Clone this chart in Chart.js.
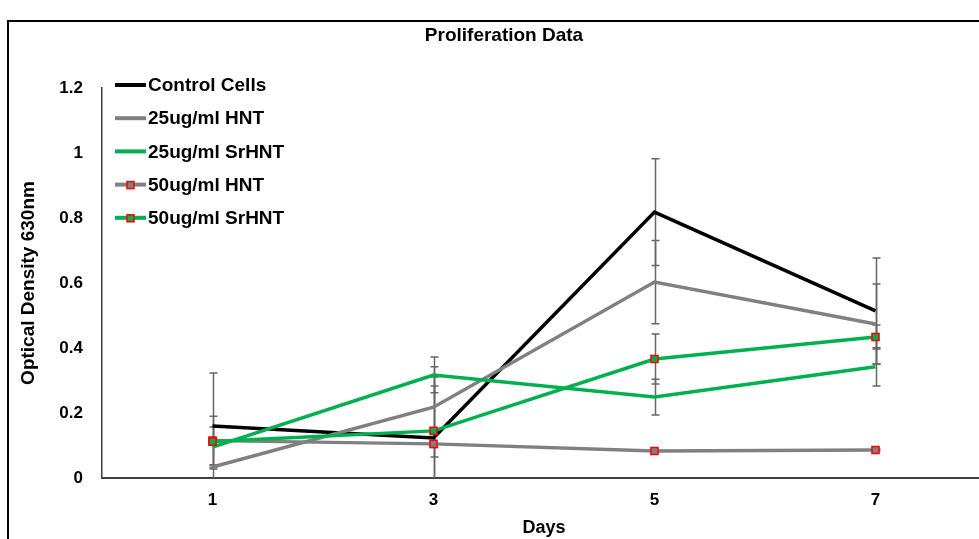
<!DOCTYPE html>
<html>
<head>
<meta charset="utf-8">
<title>Proliferation Data</title>
<script src="https://cdn.jsdelivr.net/npm/chart.js@4.4.0/dist/chart.umd.min.js"></script>
<style>
  html, body { margin: 0; padding: 0; background: #fff; }
  .wrap { position: relative; width: 979px; height: 539px; overflow: hidden; }
  .frame { position: absolute; left: 7px; top: 20px; width: 1100px; height: 700px;
           border-left: 2px solid #000; border-top: 2px solid #000; }
  #prolifChart { position: absolute; left: 0; top: 0; }
</style>
</head>
<body>
<div class="wrap">
  <div class="frame"></div>
  <canvas id="prolifChart" width="1000" height="539"></canvas>
</div>
<script>
// days on the x axis
const days = ['1', '3', '5', '7'];
const yTicks = ['0', '0.2', '0.4', '0.6', '0.8', '1', '1.2'];

// mean optical density per day, and the +/- error for each point
const control = [0.16, 0.123, 0.818, 0.514];
const controlErr = [0.163, 0.16, 0.164, 0.163];
const hnt25 = [0.034, 0.218, 0.603, 0.474];
const hnt25Err = [0.006, 0.124, 0.128, 0.123];
const srhnt25 = [0.095, 0.317, 0.249, 0.342];
const srhnt25Err = [0.062, 0.055, 0.055, 0.059];
const hnt50 = [0.115, 0.105, 0.083, 0.086];
const hnt50Err = [0.075, 0.04, 0.003, 0.003];
const srhnt50 = [0.112, 0.145, 0.366, 0.434];
const srhnt50Err = [0.01, 0.166, 0.077, 0.037];

const BLACK = '#000000';
const GREY = '#808080';
const GREEN = '#00b050';
const FONT = "'Liberation Sans', Arial, sans-serif";

function makeSet(label, data, errors, color, marker, order) {
  return {
    label: label,
    data: data,
    errors: errors,
    borderColor: color,
    backgroundColor: color,
    borderWidth: 3.5,
    tension: 0,
    order: order,
    pointStyle: 'rect',
    pointRadius: marker ? 5 : 0,
    pointBackgroundColor: color,
    pointBorderColor: '#ff0000',
    pointBorderWidth: 1.5,
    marker: marker
  };
}

// vertical error bars with caps, under the lines
const errorBars = {
  id: 'errorBars',
  beforeDatasetsDraw(chart) {
    const { ctx, chartArea, scales } = chart;
    ctx.save();
    ctx.beginPath();
    ctx.rect(chartArea.left, chartArea.top - 2, chartArea.width, chartArea.height + 2);
    ctx.clip();
    ctx.strokeStyle = '#666666';
    ctx.lineWidth = 1.5;
    chart.data.datasets.forEach(ds => {
      ds.data.forEach((v, i) => {
        const px = Math.round(scales.x.getPixelForValue(i)) + 0.5;
        const hi = scales.y.getPixelForValue(v + ds.errors[i]);
        const lo = scales.y.getPixelForValue(v - ds.errors[i]);
        ctx.beginPath();
        ctx.moveTo(px, hi); ctx.lineTo(px, lo);
        ctx.moveTo(px - 4, hi); ctx.lineTo(px + 4, hi);
        ctx.moveTo(px - 4, lo); ctx.lineTo(px + 4, lo);
        ctx.stroke();
      });
    });
    ctx.restore();
  }
};

// stacked legend in the top-left corner of the plot
const cornerLegend = {
  id: 'cornerLegend',
  afterDraw(chart) {
    const { ctx, chartArea } = chart;
    const x0 = chartArea.left + 13;
    ctx.save();
    ctx.font = 'bold 19px ' + FONT;
    ctx.textBaseline = 'middle';
    ctx.fillStyle = '#000';
    chart.data.datasets.forEach((ds, i) => {
      const yy = chartArea.top - 3 + i * 33.2;
      ctx.strokeStyle = ds.borderColor;
      ctx.lineWidth = 4;
      ctx.beginPath();
      ctx.moveTo(x0, yy); ctx.lineTo(x0 + 31, yy);
      ctx.stroke();
      if (ds.marker) {
        ctx.fillStyle = ds.borderColor;
        ctx.fillRect(x0 + 12, yy - 3, 7, 7);
        ctx.strokeStyle = '#ff0000';
        ctx.lineWidth = 1.5;
        ctx.strokeRect(x0 + 12, yy - 3, 7, 7);
      }
      ctx.fillStyle = '#000';
      ctx.fillText(ds.label, x0 + 33, yy + 1);
    });
    ctx.restore();
  }
};

new Chart(document.getElementById('prolifChart'), {
  type: 'line',
  data: {
    labels: days,
    datasets: [
      makeSet('Control Cells', control, controlErr, BLACK, false, 4),
      makeSet('25ug/ml HNT', hnt25, hnt25Err, GREY, false, 3),
      makeSet('25ug/ml SrHNT', srhnt25, srhnt25Err, GREEN, false, 2),
      makeSet('50ug/ml HNT', hnt50, hnt50Err, GREY, true, 1),
      makeSet('50ug/ml SrHNT', srhnt50, srhnt50Err, GREEN, true, 0)
    ]
  },
  options: {
    responsive: false,
    animation: false,
    devicePixelRatio: 1,
    layout: { padding: { top: 0, right: 14, bottom: 0, left: 22 } },
    plugins: {
      legend: { display: false },
      tooltip: { enabled: false },
      title: {
        display: true,
        text: 'Proliferation Data',
        color: '#000',
        font: { family: FONT, size: 19, weight: 'bold' },
        padding: { top: 24, bottom: 41.2 }
      }
    },
    scales: {
      x: {
        type: 'category',
        offset: true,
        grid: { display: false, drawTicks: false },
        border: { display: true, color: '#404040', width: 2 },
        ticks: { color: '#000', padding: 12, font: { family: FONT, size: 17, weight: 'bold' } },
        title: {
          display: true, text: 'Days', color: '#000',
          font: { family: FONT, size: 18, weight: 'bold' },
          padding: { top: 0, bottom: 0 }
        },
        afterFit(scale) { scale.height = 61; }
      },
      y: {
        min: 0,
        max: 1.2,
        grid: { display: false, drawTicks: false },
        border: { display: true, color: '#404040', width: 1.5 },
        ticks: {
          stepSize: 0.2,
          color: '#000',
          padding: 19,
          font: { family: FONT, size: 17, weight: 'bold' },
          callback: (v, i) => yTicks[i]
        },
        title: {
          display: true, text: 'Optical Density 630nm', color: '#000',
          font: { family: FONT, size: 19, weight: 'bold' },
          padding: { top: -5, bottom: 0 }
        },
        afterFit(scale) { scale.width = 80; }
      }
    }
  },
  plugins: [errorBars, cornerLegend]
});
</script>
</body>
</html>
